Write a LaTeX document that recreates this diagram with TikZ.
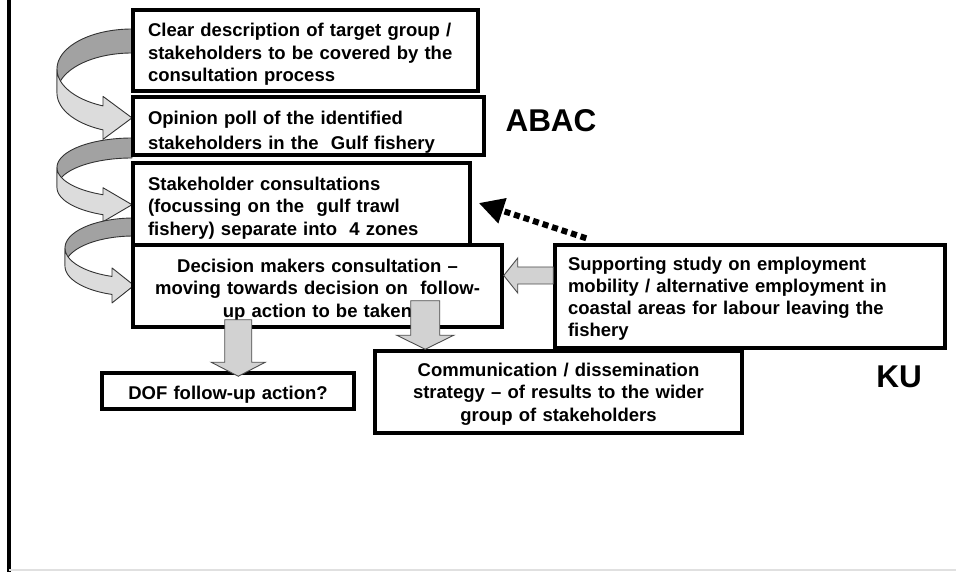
\documentclass[tikz,border=0pt]{standalone}
\usepackage{fontspec}
\setmainfont{Liberation Sans}
\usetikzlibrary{calc,arrows.meta}

\definecolor{backgrey}{HTML}{A2A2A2}
\definecolor{frontgrey}{HTML}{DCDCDC}
\definecolor{blockgrey}{HTML}{D2D2D2}

\tikzset{
  box/.style={draw=black, line width=3.5pt, fill=white, inner sep=0pt,
    font=\bfseries\fontsize{18.5}{22.5}\selectfont},
  lbox/.style={box, align=left},
  cbox/.style={box, align=center},
  % a taller first line lowers the text block inside its box
  firstline/.style={execute at begin node={\rule{0pt}{#1}}},
  firstline/.default=21pt,
  label/.style={inner sep=0pt, font=\bfseries\fontsize{31.5}{31.5}\selectfont},
  turnback/.style={fill=backgrey, draw=black!80, line width=0.9pt, line join=round},
  turnfront/.style={fill=frontgrey, draw=black!80, line width=0.9pt, line join=round},
  blockarrow/.style={fill=blockgrey, draw=black!70, line width=0.9pt},
  dasharrow/.style={line width=6pt, dash pattern=on 6pt off 4pt, black,
    -{Triangle[length=25pt,width=25pt]}},
}

% U-turn arrow: #1 right x, #2 top y, #3 x radius, #4 y radius,
% #5 band thickness, #6 head base x, #7 head overhang
\newcommand\drawturn[7]{%
  \pgfmathsetmacro\tcx{#1}%
  \pgfmathsetmacro\tcya{#2+#4}%
  \pgfmathsetmacro\tcyb{#2+#4+#5}%
  \pgfmathsetmacro\tend{acos((#6-#1)/#3)}%
  \pgfmathsetmacro\tyae{\tcya+#4*sin(\tend)}%
  \pgfmathsetmacro\tybe{\tcyb+#4*sin(\tend)}%
  \pgfmathsetmacro\tymid{(\tyae+\tybe)/2}%
  \filldraw[turnback]
    plot[domain=-90:-180,samples=40] ({\tcx+#3*cos(\x)},{\tcya+#4*sin(\x)})
    -- plot[domain=-180:-90,samples=40] ({\tcx+#3*cos(\x)},{\tcyb+#4*sin(\x)})
    -- cycle;
  \filldraw[turnfront]
    plot[domain=180:\tend,samples=40] ({\tcx+#3*cos(\x)},{\tcya+#4*sin(\x)})
    -- (#6,\tyae-#7) -- (#1,\tymid) -- (#6,\tybe+#7)
    -- plot[domain=\tend:180,samples=40] ({\tcx+#3*cos(\x)},{\tcyb+#4*sin(\x)})
    -- cycle;
}

% block arrow pointing down: #1 start, #2 tip, #3 shaft half width,
% #4 head half width, #5 head length
\newcommand\blockdown[5]{%
  \filldraw[blockarrow] let \p1=(#1), \p2=(#2) in
    (\x2-#3pt,\y1) -- (\x2+#3pt,\y1) -- (\x2+#3pt,\y2+#5pt)
    -- (\x2+#4pt,\y2+#5pt) -- (\x2,\y2) -- (\x2-#4pt,\y2+#5pt)
    -- (\x2-#3pt,\y2+#5pt) -- cycle;
}

% block arrow pointing left: #1 tail, #2 tip
\newcommand\blockleft[5]{%
  \filldraw[blockarrow] let \p1=(#1), \p2=(#2) in
    (\x1,\y2+#3pt) -- (\x2+#5pt,\y2+#3pt) -- (\x2+#5pt,\y2+#4pt)
    -- (\x2,\y2) -- (\x2+#5pt,\y2-#4pt) -- (\x2+#5pt,\y2-#3pt)
    -- (\x1,\y2-#3pt) -- cycle;
}

\begin{document}
\begin{tikzpicture}[x=1pt,y=-1pt]
\useasboundingbox (0,0) rectangle (956,572);

% frame
\draw[line width=3.5pt] (9,0) -- (9,572);
\draw[black!12, line width=1.5pt] (9,570) -- (956,570);

% turning arrows along the left side
\drawturn{132}{29}{75}{40}{24}{103}{9.5}
\drawturn{132}{138}{75}{29.5}{20}{103}{7}
\drawturn{134}{218}{69}{30}{18}{112}{8.5}

% process boxes
\node[lbox, firstline, minimum width=345, minimum height=81, text width=315] (b1) at (305.5,50.5)
  {Clear description of target group /\\stakeholders to be covered by the\\consultation process};
\node[lbox, firstline=25.5pt, font=\bfseries\fontsize{18.5}{24.5}\selectfont,
      minimum width=351, minimum height=58, text width=321] (b2) at (308.5,126)
  {Opinion poll of the identified\\stakeholders in the~ Gulf fishery};
\node[lbox, firstline, minimum width=337, minimum height=82, text width=307] (b3) at (301.5,204)
  {Stakeholder consultations\\(focussing on the~ gulf trawl\\fishery) separate into~ 4 zones};
\node[cbox, firstline, minimum width=369, minimum height=82, text width=349] (b4) at (317.5,286)
  {Decision makers consultation --\\moving towards decision on~ follow-\\up action to be taken};
\node[lbox, firstline=17.5pt, font=\bfseries\fontsize{18.5}{22}\selectfont,
      minimum width=390, minimum height=103, text width=364] (b5) at (750,296.5)
  {Supporting study on employment\\mobility / alternative employment in\\coastal areas for labour leaving the\\fishery};
\node[cbox, firstline=17.5pt, minimum width=367, minimum height=82, text width=347] (b6) at (558.5,392)
  {Communication / dissemination\\strategy -- of results to the wider\\group of stakeholders};
\node[cbox, firstline=20pt, minimum width=252, minimum height=36, text width=236] (b7) at (228,391)
  {DOF follow-up action?};

% partner labels
\node[label] (abac) at (551,121) {ABAC};
\node[label] (ku) at (899,377) {KU};

% block arrows between boxes
\coordinate (s46) at ($(b4.south west)+(294,-28)$);
\coordinate (t46) at ($(b6.north west)+(52,0)$);
\blockdown{s46}{t46}{14.5}{28.5}{14}
\coordinate (s47) at ($(b4.south west)+(107,-9)$);
\coordinate (t47) at ($(b7.north west)+(138,5)$);
\blockdown{s47}{t47}{13.5}{27}{14}
\coordinate (t54) at ($(b4.east)+(0,-10.5)$);
\coordinate (s54) at (t54 -| b5.west);
\blockleft{s54}{t54}{8.5}{17.5}{14}

% dashed feedback arrow
\draw[dasharrow] ($(b5.north west)+(33,-5)$) -- ($(b3.east)+(7,-1)$);
\end{tikzpicture}
\end{document}
